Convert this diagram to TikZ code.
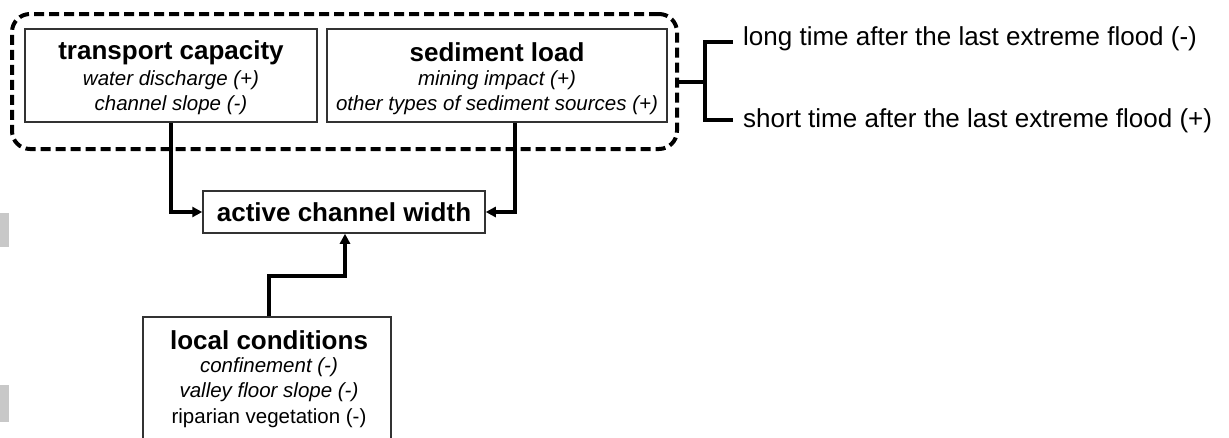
\documentclass[tikz,border=0pt]{standalone}
\usepackage{fontspec}
\setmainfont{Liberation Sans}
\usetikzlibrary{arrows.meta}
\definecolor{sidegray}{RGB}{200,200,200}
\definecolor{boxline}{RGB}{50,50,50}
\newcommand\ttlfont{\fontsize{26}{30}\selectfont\bfseries}
\newcommand\subfont{\fontsize{20.5}{24}\selectfont}
\newcommand\brkfont{\fontsize{26}{30}\selectfont}
\begin{document}
\begin{tikzpicture}[x=1pt,y=-1pt,
  box/.style={draw=boxline, line width=1.5pt, inner sep=0pt},
  txt/.style={inner sep=0pt, anchor=center},
  conn/.style={draw=black, line width=4pt, -{Triangle[length=10pt,width=10pt]}},
  brk/.style={draw=black, line width=4pt},
  grpbox/.style={draw=black, line width=4pt, dash pattern=on 10pt off 5pt, rounded corners=18pt, inner sep=0pt}]
\useasboundingbox (0,0) rectangle (1229,437);
\clip (0,0) rectangle (1229,437);
% side gray blocks
\fill[sidegray] (0,213) rectangle (9,247);
\fill[sidegray] (0,385) rectangle (9,422);
% dashed group
\node[grpbox, minimum width=665pt, minimum height=135pt] (grp) at (344.5,81.5) {};
% boxes
\node[box, minimum width=292pt, minimum height=93pt] (tc) at (171,75.5) {};
\node[box, minimum width=340pt, minimum height=93pt] (sl) at (497,75.5) {};
\node[box, minimum width=282pt, minimum height=42pt] (acw) at (344,212) {};
\node[box, minimum width=248pt, minimum height=143pt] (lc) at (267,388.5) {};
% texts
\node[txt] (tct) at (171,53) {\ttlfont transport capacity};
\node[txt] (tc1) at (171,80) {\subfont\itshape water discharge (+)};
\node[txt] (tc2) at (171,105) {\subfont\itshape channel slope (-)};
\node[txt] (slt) at (497,52) {\ttlfont sediment load};
\node[txt] (sl1) at (497,80) {\subfont\itshape mining impact (+)};
\node[txt] (sl2) at (497,105) {\subfont\itshape other types of sediment sources (+)};
\node[txt] (acwt) at (344,212) {\ttlfont active channel width};
\node[txt] (lct) at (269,340) {\ttlfont local conditions};
\node[txt] (lc1) at (269,367) {\subfont\itshape confinement (-)};
\node[txt] (lc2) at (269,392) {\subfont\itshape valley floor slope (-)};
\node[txt] (lc3) at (269,418) {\subfont riparian vegetation (-)};
\node[txt, anchor=west] (lt) at (743,39) {\brkfont long time after the last extreme flood (-)};
\node[txt, anchor=west] (st) at (743,121) {\brkfont short time after the last extreme flood (+)};
% connectors
\draw[conn] (tc.south) |- (acw.west);
\draw[conn] ([xshift=18pt]sl.south) |- (acw.east);
\coordinate (lmid) at (300,276);
\draw[conn] ([xshift=2pt]lc.north) |- (lmid) -| ([xshift=1pt]acw.south);
% bracket
\coordinate (bj) at (705,81.5);
\coordinate (btop) at (705,42);
\coordinate (bbot) at (705,120);
\coordinate (btopend) at (733,42);
\coordinate (bbotend) at (733,120);
\draw[brk] (grp.east) -- (bj);
\draw[brk] (btopend) -- (btop) -- (bbot) -- (bbotend);
\end{tikzpicture}
\end{document}
